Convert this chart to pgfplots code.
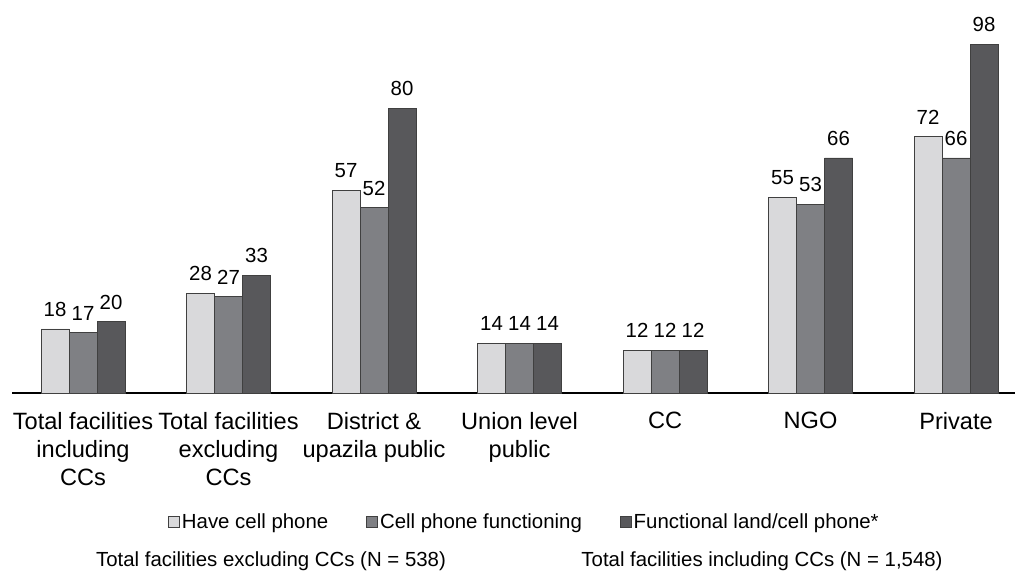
\documentclass[border=0pt]{standalone}
\usepackage{fontspec}
\setmainfont{Liberation Sans}
\usepackage{pgfplots}
\pgfplotsset{compat=1.18}

\definecolor{barA}{HTML}{D9D9DB}
\definecolor{barB}{HTML}{7F8084}
\definecolor{barC}{HTML}{58585B}
\definecolor{edge}{HTML}{404040}

\pgfplotsset{
  sqlegend/.style={legend image code/.code={
    \draw[##1, draw=edge, line width=0.8pt] (0pt,-5.5pt) rectangle (11pt,5.5pt);}},
}

\begin{document}
\begin{tikzpicture}[x=1pt,y=1pt]
\useasboundingbox (0,0) rectangle (1015,-572);
\begin{axis}[
  at={(12pt,-393pt)}, anchor=south west,
  scale only axis, width=1003pt, height=393pt,
  xmin=-0.488, xmax=6.405, ymin=0, ymax=110.36,
  ybar=0pt, bar width=28pt,
  axis x line*=bottom, axis y line=none,
  x axis line style={line width=1.2pt, black},
  xtick={0,...,6}, ytick=\empty,
  major tick length=0pt,
  xticklabels={
    {Total facilities\\including\\CCs},
    {Total facilities\\excluding\\CCs},
    {District \&\\upazila public},
    {Union level\\public},
    {CC},
    {NGO},
    {Private}},
  xticklabel style={font=\fontsize{23.6}{28}\selectfont, align=center,
    inner sep=0pt, anchor=north, yshift=-19pt},
  /pgf/number format/assume math mode=true,
  nodes near coords,
  every node near coord/.append style={font=\fontsize{20.4}{24}\selectfont,
    inner sep=0pt, anchor=south, yshift=12pt, black},
  legend columns=3,
  legend style={draw=none, fill=none, at={(axis description cs:0.1555,-0.328)},
    anchor=west, inner sep=0pt, font=\fontsize{20.4}{24}\selectfont,
    /tikz/every even column/.append style={column sep=36pt}},
  clip=false,
]
\addplot[sqlegend, fill=barA, draw=edge, line width=0.8pt] coordinates {
  (0,18) (1,28) (2,57) (3,14) (4,12) (5,55) (6,72)};
\addplot[sqlegend, fill=barB, draw=edge, line width=0.8pt] coordinates {
  (0,17) (1,27) (2,52) (3,14) (4,12) (5,53) (6,66)};
\addplot[sqlegend, fill=barC, draw=edge, line width=0.8pt] coordinates {
  (0,20) (1,33) (2,80) (3,14) (4,12) (5,66) (6,98)};
\legend{Have cell phone, Cell phone functioning, Functional land/cell phone*}
\end{axis}
\node[font=\fontsize{20.4}{24}\selectfont, anchor=base] at (271,-566)
  {Total facilities excluding CCs (N = 538)};
\node[font=\fontsize{20.4}{24}\selectfont, anchor=base] at (762,-566)
  {Total facilities including CCs (N = 1,548)};
\end{tikzpicture}
\end{document}
